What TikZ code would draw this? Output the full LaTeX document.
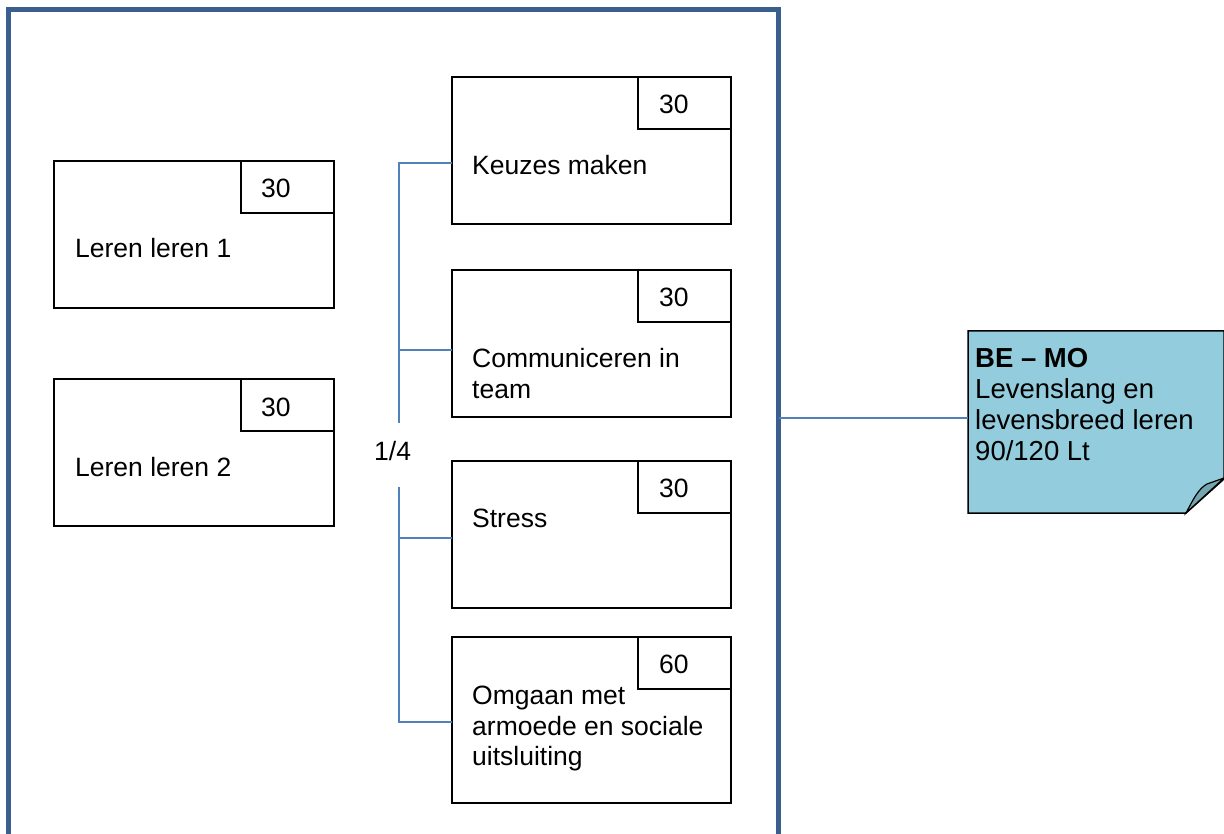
\documentclass[tikz,border=0pt]{standalone}
\usepackage{fontspec}
\setmainfont{Liberation Sans}
\definecolor{frameblue}{HTML}{3A5F8E}
\definecolor{linkblue}{HTML}{4F81BD}
\definecolor{notefill}{HTML}{93CDDD}
\definecolor{foldfill}{HTML}{74A6B0}
\tikzset{
  card/.style={draw=black, line width=2pt, minimum width=279pt, minimum height=147pt, anchor=north west, inner sep=0pt, outer sep=0pt},
  numbox/.style={draw=black, line width=2pt, minimum width=93pt, minimum height=52pt, anchor=north west, inner sep=0pt, outer sep=0pt},
  lbl/.style={anchor=base west, inner sep=0pt, align=left, font=\fontsize{26.5}{30.5}\selectfont},
  link/.style={draw=linkblue, line width=1.5pt},
}
\begin{document}
\begin{tikzpicture}[x=1pt,y=-1pt]
\useasboundingbox (0,0) rectangle (1224,834);
\clip (0,0) rectangle (1224,834);
% outer frame
\draw[frameblue, line width=5pt] (8.5,850) -- (8.5,9.5) -- (778.5,9.5) -- (778.5,850);
% left boxes
\node[card, minimum width=280pt] (l1) at (54,161) {};
\node[numbox, anchor=north east] (l1n) at (l1.north east) {};
\node[lbl] (l1t) at (75,258) {Leren leren 1};
\node[lbl] (l1v) at (261,198) {30};
\node[card, minimum width=280pt] (l2) at (54,379) {};
\node[numbox, anchor=north east] (l2n) at (l2.north east) {};
\node[lbl] (l2t) at (75,476) {Leren leren 2};
\node[lbl] (l2v) at (261,416) {30};
% right boxes
\node[card] (b1) at (452,77) {};
\node[numbox, anchor=north east] (b1n) at (b1.north east) {};
\node[lbl] (b1t) at (472,174.5) {Keuzes maken};
\node[lbl] (b1v) at (659,113.5) {30};
\node[card] (b2) at (452,270) {};
\node[numbox, anchor=north east] (b2n) at (b2.north east) {};
\node[lbl] (b2t) at (472,398.5) {Communiceren in\\team};
\node[lbl] (b2v) at (659,306.5) {30};
\node[card] (b3) at (452,461) {};
\node[numbox, anchor=north east] (b3n) at (b3.north east) {};
\node[lbl] (b3t) at (472,527.5) {Stress};
\node[lbl] (b3v) at (659,497.5) {30};
\node[card, minimum height=166pt] (b4) at (452,637) {};
\node[numbox, anchor=north east] (b4n) at (b4.north east) {};
\node[lbl] (b4t) at (472,765.5) {Omgaan met\\armoede en sociale\\uitsluiting};
\node[lbl] (b4v) at (659,673.5) {60};
% tree connector
\coordinate (t1) at (399,163);
\coordinate (t2) at (399,350);
\coordinate (t3) at (399,538);
\coordinate (t4) at (399,722);
\coordinate (gapa) at (399,423);
\coordinate (gapb) at (399,487);
\node[lbl] (frac) at (374,460) {1/4};
\draw[link] (t1 -| b1.west) -- (t1) -- (gapa);
\draw[link] (t2) -- (t2 -| b2.west);
\draw[link] (gapb) -- (t4) -- (t4 -| b4.west);
\draw[link] (t3) -- (t3 -| b3.west);
% note
\node[minimum width=256pt, minimum height=182pt, anchor=north west, inner sep=0pt, outer sep=0pt] (note) at (968,331) {};
\draw[fill=notefill, draw=black, line width=1.5pt]
  (note.north west) -- (note.north east) -- (1224,479) -- (1186,513) -- (note.south west) -- cycle;
\draw[fill=foldfill, draw=black, line width=1.2pt]
  (1186,513) .. controls (1193,500) and (1198,489) .. (1207,484) -- (1224,478) -- cycle;
\node[anchor=base west, inner sep=0pt, align=left, font=\fontsize{27.5}{31}\selectfont] (notet) at (975,460) {\textbf{BE – MO}\\Levenslang en\\levensbreed leren\\90/120 Lt};
% frame to note
\coordinate (fr) at (778.5,418);
\draw[link] (fr) -- (fr -| note.west);
\end{tikzpicture}
\end{document}
